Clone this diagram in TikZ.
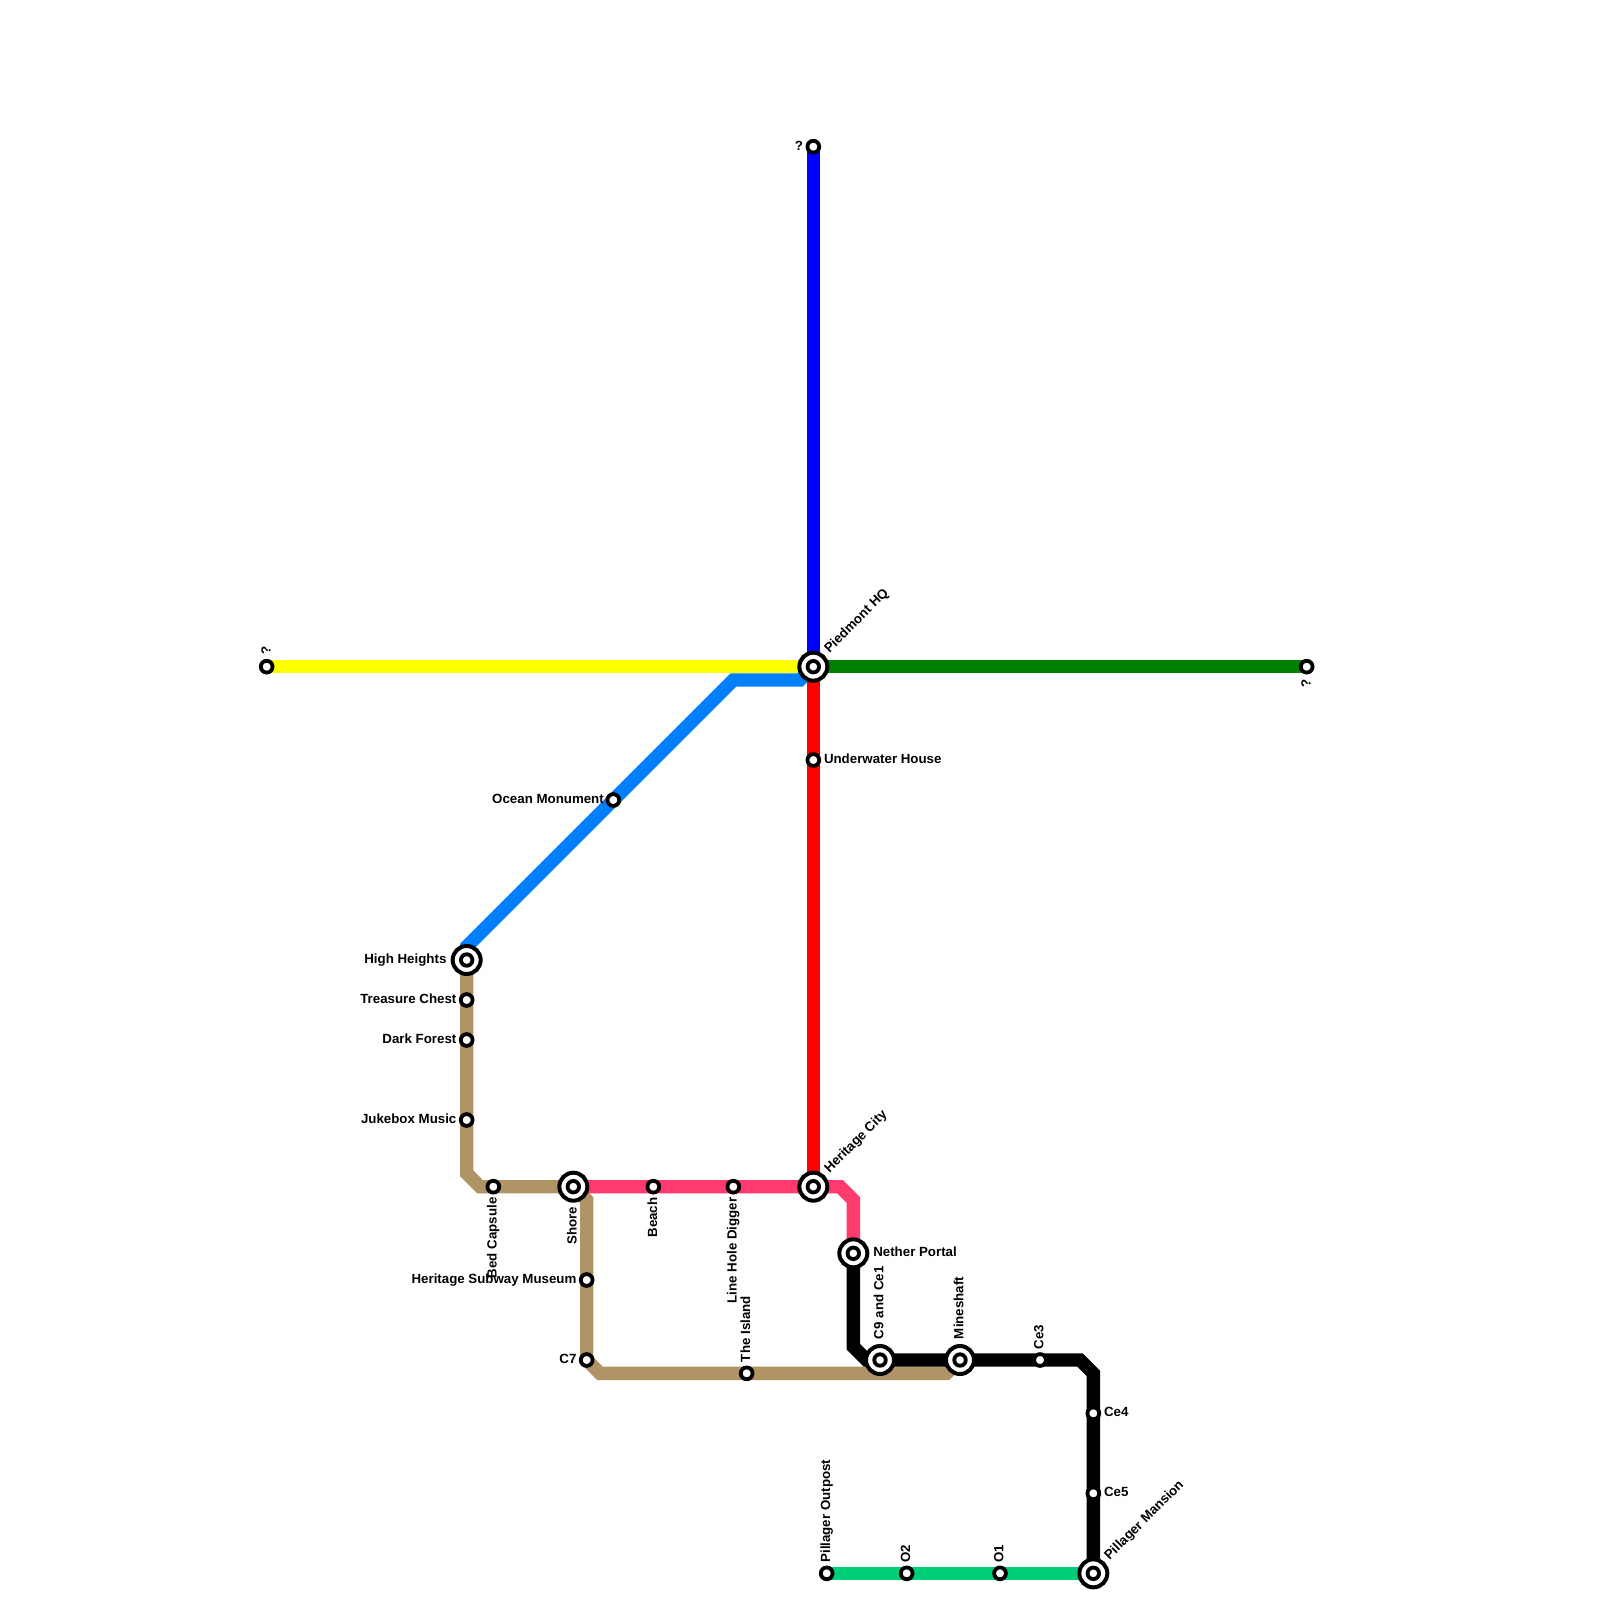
\documentclass[tikz,border=0pt]{standalone}
\usepackage{fontspec}
\setmainfont{Liberation Sans}
\pgfdeclarelayer{linelayer}
\pgfsetlayers{linelayer,main}
\tikzset{
  x=1pt,y=-1pt,
  every node/.style={inner sep=0pt,outer sep=0pt},
  metro/.style={line width=13.33pt,line join=miter,line cap=butt},
  small/.style={circle,draw=black,fill=white,line width=3.8pt,minimum size=11.8pt},
  big/.style={circle,draw=black,fill=white,line width=4pt,minimum size=28pt},
  inner/.style={circle,draw=black,fill=white,line width=3.8pt,minimum size=11.5pt},
  lbl/.style={font=\bfseries\fontsize{13.3pt}{15pt}\selectfont,text=black},
  lr/.style={lbl,anchor=base west},
  ll/.style={lbl,anchor=base east},
  up/.style={lbl,anchor=base west,rotate=90},
  down/.style={lbl,anchor=base east,rotate=90},
  diag/.style={lbl,anchor=base west,rotate=45},
}
\definecolor{tan}{HTML}{B09465}
\definecolor{pink}{HTML}{FF3A6E}
\definecolor{azure}{HTML}{0080FF}
\definecolor{mint}{HTML}{00CE78}
\definecolor{dgreen}{HTML}{008000}
\definecolor{lineyellow}{HTML}{FFFF00}
\definecolor{lineblue}{HTML}{0000FF}
\definecolor{linered}{HTML}{FF0000}
\begin{document}
\begin{tikzpicture}
\useasboundingbox (0,0) rectangle (1600,1600);

% stations
\node[small] (qtop) at (813.33,146.67) {};
\node[small] (qleft) at (266.67,666.67) {};
\node[small] (qright) at (1306.67,666.67) {};
\node[big] (piedmont) at (813.33,666.67) {};
\node[inner] (piedmontI) at (piedmont.center) {};
\node[small] (underwater) at (813.33,760) {};
\node[small] (ocean) at (613.33,800) {};
\node[big] (heights) at (466.67,960) {};
\node[inner] (heightsI) at (heights.center) {};
\node[small] (treasure) at (466.67,1000) {};
\node[small] (dark) at (466.67,1040) {};
\node[small] (jukebox) at (466.67,1120) {};
\node[small] (bed) at (493.33,1186.67) {};
\node[big] (shore) at (573.33,1186.67) {};
\node[inner] (shoreI) at (shore.center) {};
\node[small] (beach) at (653.33,1186.67) {};
\node[small] (digger) at (733.33,1186.67) {};
\node[big] (heritage) at (813.33,1186.67) {};
\node[inner] (heritageI) at (heritage.center) {};
\node[small] (museum) at (586.67,1280) {};
\node[small] (c7) at (586.67,1360) {};
\node[small] (island) at (746.67,1373.33) {};
\node[big] (nether) at (853.33,1253.33) {};
\node[inner] (netherI) at (nether.center) {};
\node[big] (c9) at (880,1360) {};
\node[inner] (c9I) at (c9.center) {};
\node[big] (mineshaft) at (960,1360) {};
\node[inner] (mineshaftI) at (mineshaft.center) {};
\node[small] (ce3) at (1040,1360) {};
\node[small] (ce4) at (1093.33,1413.33) {};
\node[small] (ce5) at (1093.33,1493.33) {};
\node[big] (mansion) at (1093.33,1573.33) {};
\node[inner] (mansionI) at (mansion.center) {};
\node[small] (outpost) at (826.67,1573.33) {};
\node[small] (o2) at (906.67,1573.33) {};
\node[small] (o1) at (1000,1573.33) {};

% connector bend points
\coordinate (bA) at (800,680);
\coordinate (bB) at (733.33,680);
\coordinate (bC) at (466.67,946.67);
\coordinate (tA) at (466.67,1173.33);
\coordinate (tB) at (480,1186.67);
\coordinate (tC) at (586.67,1200);
\coordinate (tD) at (600,1373.33);
\coordinate (tE) at (946.67,1373.33);
\coordinate (pA) at (840,1186.67);
\coordinate (pB) at (853.33,1200);
\coordinate (kA) at (853.33,1346.67);
\coordinate (kB) at (866.67,1360);
\coordinate (kC) at (1080,1360);
\coordinate (kD) at (1093.33,1373.33);

\begin{pgfonlayer}{linelayer}
\fill[white] (0,0) rectangle (1600,1600);
\draw[metro,lineyellow] (qleft.center) -- (piedmont.center);
\draw[metro,azure] (piedmont.center) -- (bA) -- (bB) -- (bC) -- (heights.center);
\draw[metro,lineblue] (qtop.center) -- (piedmont.center);
\draw[metro,dgreen] (piedmont.center) -- (qright.center);
\draw[metro,linered] (piedmont.center) -- (heritage.center);
\draw[metro,tan] (heights.center) -- (tA) -- (tB) -- (shore.center);
\draw[metro,tan] (shore.center) -- (tC) -- (c7.center) -- (tD) -- (tE) -- (mineshaft.center);
\draw[metro,pink] (shore.center) -- (pA) -- (pB) -- (nether.center);
\draw[metro,black] (nether.center) -- (kA) -- (kB) -- (kC) -- (kD) -- (mansion.center);
\draw[metro,mint] (outpost.center) -- (mansion.center);
\end{pgfonlayer}

% labels
\node[ll] (Lqtop) at (803,150) {?};
\node[up] (Lqleft) at (270.5,654) {?};
\node[down] (Lqright) at (1310.5,679) {?};
\node[diag] (Lpiedmont) at (829.5,653.3) {Piedmont HQ};
\node[lr] (Lunderwater) at (824,763.4) {Underwater House};
\node[ll] (Locean) at (603.8,803.4) {Ocean Monument};
\node[ll] (Lheights) at (446.4,963.4) {High Heights};
\node[ll] (Ltreasure) at (456.4,1003.4) {Treasure Chest};
\node[ll] (Ldark) at (456.4,1043.4) {Dark Forest};
\node[ll] (Ljukebox) at (456.4,1123.4) {Jukebox Music};
\node[down] (Lbed) at (496.7,1197.5) {Bed Capsule};
\node[down] (Lshore) at (576.7,1206.7) {Shore};
\node[down] (Lbeach) at (657,1197.5) {Beach};
\node[down] (Ldigger) at (736.7,1197.5) {Line Hole Digger};
\node[diag] (Lheritage) at (829.5,1173.6) {Heritage City};
\node[ll] (Lmuseum) at (576.4,1283.4) {Heritage Subway Museum};
\node[ll] (Lc7) at (576.4,1363.4) {C7};
\node[up] (Lisland) at (750,1362) {The Island};
\node[lr] (Lnether) at (873.3,1256.7) {Nether Portal};
\node[up] (Lc9) at (883.3,1339) {C9 and Ce1};
\node[up] (Lmineshaft) at (963.3,1339) {Mineshaft};
\node[up] (Lce3) at (1043.3,1349) {Ce3};
\node[lr] (Lce4) at (1104,1416.7) {Ce4};
\node[lr] (Lce5) at (1104,1496.7) {Ce5};
\node[diag] (Lmansion) at (1109.5,1560.3) {Pillager Mansion};
\node[up] (Loutpost) at (830,1562.5) {Pillager Outpost};
\node[up] (Lo2) at (910,1562.5) {O2};
\node[up] (Lo1) at (1003.3,1562.5) {O1};
\end{tikzpicture}
\end{document}
